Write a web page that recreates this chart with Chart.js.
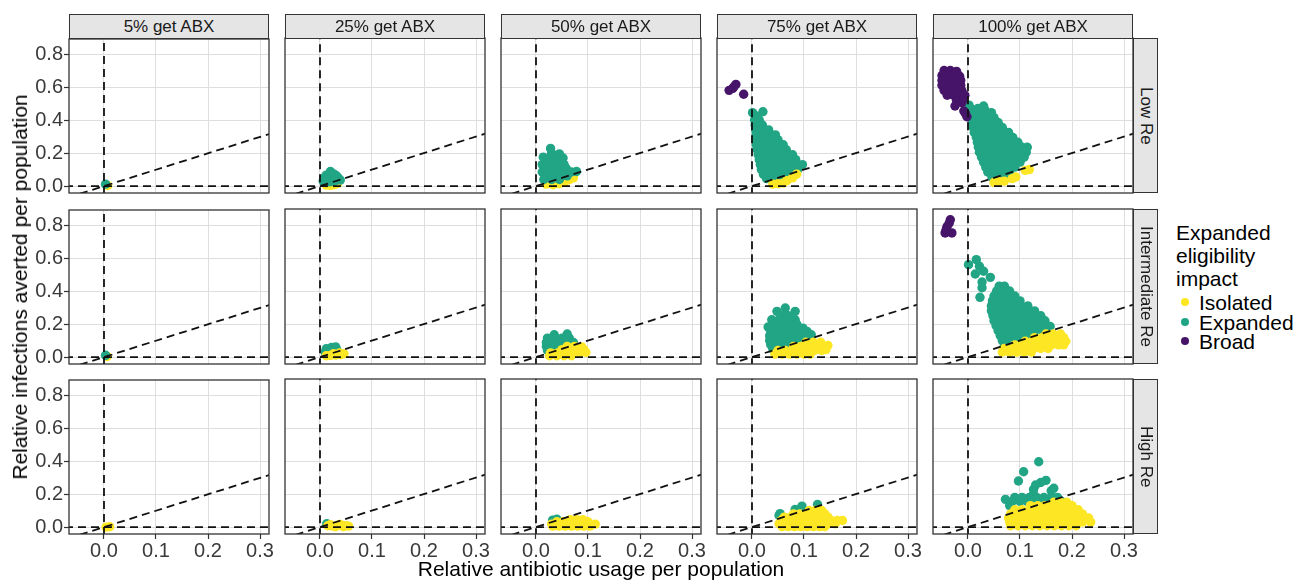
<!DOCTYPE html>
<html>
<head>
<meta charset="utf-8">
<title>Expanded eligibility impact</title>
<script src="https://cdn.jsdelivr.net/npm/chart.js@4.4.1/dist/chart.umd.min.js"></script>
<style>
  html, body { margin: 0; padding: 0; background: #fff; }
  #page { position: relative; width: 1294px; height: 580px; overflow: hidden;
          font-family: "Liberation Sans", Arial, sans-serif; color: #000; }
  .panel { position: absolute; }
  .strip-top { position: absolute; top: 14px; height: 25px; width: 200px; box-sizing: border-box;
               background: #e5e5e5; border: 1.3px solid #333; font-size: 17px; color: #1a1a1a;
               display: flex; align-items: center; justify-content: center; }
  .strip-right { position: absolute; left: 1133px; width: 25px; height: 155px; box-sizing: border-box;
                 background: #e5e5e5; border: 1.3px solid #333; font-size: 17px; color: #1a1a1a;
                 writing-mode: vertical-rl; display: flex; align-items: center; justify-content: center; }
  #ytitle { position: absolute; left: 20px; top: 287px; white-space: nowrap; font-size: 21px;
            transform: translate(-50%, -50%) rotate(-90deg); }
  #xtitle { position: absolute; left: 601px; top: 569px; white-space: nowrap; font-size: 21px;
            transform: translate(-50%, -50%); }
  .lg-line { position: absolute; left: 1176px; font-size: 21px; line-height: 23px; transform: translateY(-50%); white-space: nowrap; }
  .lg-dot { position: absolute; left: 1181px; width: 8px; height: 8px; border-radius: 50%; transform: translateY(-50%); }
  .lg-text { position: absolute; left: 1199px; font-size: 21px; line-height: 23px; transform: translateY(-50%); white-space: nowrap; }
</style>
</head>
<body>
<div id="page"></div>
<script>
// facets and groups
const abxLevels = ['5% get ABX', '25% get ABX', '50% get ABX', '75% get ABX', '100% get ABX'];
const reLevels = ['Low Re', 'Intermediate Re', 'High Re'];
const groupNames = ['Isolated', 'Expanded', 'Broad'];
const groupColors = ['#fde725', '#21a585', '#461468'];

const xTicks = [0, 0.1, 0.2, 0.3];
const yTicks = [0, 0.2, 0.4, 0.6, 0.8];
const xRange = [-0.0673, 0.3173];
const yRange = [-0.042, 0.897];

// dashed reference lines: x = 0, y = 0, y = x
const refVertical = [{ x: 0, y: -1 }, { x: 0, y: 1 }];
const refHorizontal = [{ x: -1, y: 0 }, { x: 1, y: 0 }];
const refDiagonal = [{ x: -1, y: -1 }, { x: 1, y: 1 }];

// ---- Low Re ----
const low5Iso = [[0.007,0.004]];
const low5Exp = [[0.003,0.012]];

const low25Iso = [[0.012,0.006],[0.02,0.004],[0.028,0.008],[0.034,0.016],[0.016,0.014]];
const low25Exp = [[0.006,0.03],[0.008,0.05],[0.012,0.066],[0.015,0.04],[0.02,0.088],[0.021,0.06],[0.026,0.074],
  [0.028,0.046],[0.031,0.064],[0.035,0.05],[0.039,0.036],[0.012,0.022],[0.02,0.026],[0.028,0.03]];

const low50Iso = [[0.02,0.012],[0.033,0.008],[0.045,0.014],[0.055,0.024],[0.064,0.038],[0.072,0.05]];
const low50Exp = [[0.028,0.228],[0.03,0.2],[0.045,0.195],
  [0.014,0.175],[0.028,0.175],[0.042,0.175],[0.052,0.17],
  [0.02,0.152],[0.035,0.152],[0.048,0.152],
  [0.012,0.13],[0.026,0.13],[0.04,0.13],[0.054,0.13],
  [0.018,0.107],[0.032,0.107],[0.046,0.107],[0.058,0.107],
  [0.012,0.085],[0.026,0.085],[0.04,0.085],[0.054,0.085],[0.068,0.085],[0.078,0.088],
  [0.018,0.062],[0.032,0.062],[0.046,0.062],[0.06,0.062],
  [0.015,0.04],[0.03,0.04],[0.045,0.04]];

const low75Iso = [[0.04,0.012],[0.05,0.014],[0.06,0.018],[0.067,0.033],[0.078,0.05],[0.086,0.072]];
const low75Exp = [[0.001,0.445],[0.021,0.45],
  [0.008,0.425],[0.005,0.40],[0.014,0.40],
  [0.006,0.37],[0.02,0.37],
  [0.007,0.34],[0.02,0.34],[0.032,0.34],
  [0.008,0.31],[0.022,0.31],[0.036,0.31],[0.045,0.31],
  [0.008,0.28],[0.022,0.28],[0.036,0.28],[0.05,0.28],
  [0.008,0.25],[0.022,0.25],[0.036,0.25],[0.05,0.25],[0.06,0.25],
  [0.01,0.22],[0.024,0.22],[0.038,0.22],[0.052,0.22],[0.066,0.22],
  [0.012,0.19],[0.026,0.19],[0.04,0.19],[0.054,0.19],[0.068,0.19],[0.078,0.19],
  [0.014,0.16],[0.028,0.16],[0.042,0.16],[0.056,0.16],[0.07,0.16],[0.084,0.16],
  [0.016,0.13],[0.03,0.13],[0.044,0.13],[0.058,0.13],[0.072,0.13],[0.086,0.13],[0.097,0.13],
  [0.018,0.10],[0.032,0.10],[0.046,0.10],[0.06,0.10],[0.074,0.10],[0.088,0.10],
  [0.022,0.07],[0.036,0.07],[0.05,0.07],[0.064,0.07],[0.078,0.07],
  [0.028,0.045],[0.042,0.045],[0.056,0.045],[0.07,0.045]];
const low75Broad = [[-0.044,0.58],[-0.037,0.592],[-0.031,0.616],[-0.035,0.6],[-0.016,0.556]];

const low100Iso = [[0.05,0.022],[0.06,0.026],[0.07,0.03],[0.085,0.045],[0.092,0.055],[0.11,0.095],[0.118,0.1]];
const low100Exp = [[0.002,0.49],[0.03,0.485],
  [0.005,0.47],[0.019,0.47],[0.032,0.465],
  [0.006,0.445],[0.02,0.445],[0.034,0.445],[0.045,0.445],
  [0.008,0.415],[0.022,0.415],[0.036,0.415],[0.05,0.415],
  [0.008,0.385],[0.022,0.385],[0.036,0.385],[0.05,0.385],[0.058,0.385],
  [0.01,0.355],[0.024,0.355],[0.038,0.355],[0.052,0.355],[0.066,0.355],
  [0.012,0.325],[0.026,0.325],[0.04,0.325],[0.054,0.325],[0.068,0.325],[0.078,0.325],
  [0.016,0.295],[0.03,0.295],[0.044,0.295],[0.058,0.295],[0.072,0.295],[0.086,0.295],
  [0.018,0.265],[0.032,0.265],[0.046,0.265],[0.06,0.265],[0.074,0.265],[0.088,0.265],[0.096,0.265],
  [0.02,0.235],[0.034,0.235],[0.048,0.235],[0.062,0.235],[0.076,0.235],[0.09,0.235],[0.104,0.235],[0.114,0.235],
  [0.022,0.205],[0.036,0.205],[0.05,0.205],[0.064,0.205],[0.078,0.205],[0.092,0.205],[0.106,0.205],[0.112,0.205],
  [0.026,0.175],[0.04,0.175],[0.054,0.175],[0.068,0.175],[0.082,0.175],[0.096,0.175],[0.108,0.175],
  [0.03,0.145],[0.044,0.145],[0.058,0.145],[0.072,0.145],[0.086,0.145],[0.1,0.145],
  [0.034,0.115],[0.048,0.115],[0.062,0.115],[0.076,0.115],[0.09,0.115],
  [0.038,0.085],[0.052,0.085],[0.066,0.085],[0.08,0.085],
  [0.046,0.055],[0.06,0.055],[0.072,0.055]];
const low100Broad = [[-0.046,0.70],[-0.034,0.70],[-0.022,0.695],
  [-0.05,0.67],[-0.038,0.67],[-0.026,0.67],[-0.016,0.665],
  [-0.05,0.64],[-0.038,0.64],[-0.026,0.64],[-0.014,0.64],
  [-0.05,0.61],[-0.038,0.61],[-0.026,0.61],[-0.014,0.61],
  [-0.046,0.58],[-0.034,0.58],[-0.022,0.58],[-0.012,0.58],
  [-0.04,0.55],[-0.028,0.55],[-0.016,0.55],[-0.006,0.55],
  [-0.022,0.52],[-0.01,0.52],
  [-0.025,0.485],[-0.012,0.505],[-0.008,0.455],[-0.002,0.42],[-0.005,0.44]];

// ---- Intermediate Re ----
const mid5Iso = [[0.006,0.004]];
const mid5Exp = [[0.003,0.011]];

const mid25Iso = [[0.012,0.008],[0.02,0.01],[0.03,0.012],[0.04,0.014],[0.046,0.02],[0.038,0.025],[0.026,0.02]];
const mid25Exp = [[0.01,0.03],[0.012,0.05],[0.02,0.04],[0.022,0.058],[0.03,0.062],[0.032,0.045],[0.018,0.025]];

const mid50Iso = [[0.06,0.065],[0.074,0.065],[0.088,0.062],
  [0.05,0.045],[0.064,0.045],[0.078,0.045],[0.092,0.045],
  [0.028,0.025],[0.042,0.025],[0.056,0.025],[0.07,0.025],[0.084,0.025],[0.096,0.028],
  [0.026,0.008],[0.04,0.008],[0.054,0.008],[0.068,0.008]];
const mid50Exp = [[0.06,0.14],[0.035,0.135],
  [0.022,0.115],[0.036,0.115],[0.05,0.115],[0.064,0.115],
  [0.02,0.09],[0.034,0.09],[0.048,0.09],[0.062,0.09],[0.072,0.088],
  [0.02,0.065],[0.034,0.065],[0.048,0.065],
  [0.022,0.04],[0.036,0.04]];

const mid75Iso = [[0.104,0.09],[0.118,0.09],[0.132,0.09],
  [0.08,0.065],[0.094,0.065],[0.108,0.065],[0.122,0.065],[0.136,0.065],[0.146,0.07],
  [0.05,0.04],[0.064,0.04],[0.078,0.04],[0.092,0.04],[0.106,0.04],[0.12,0.04],[0.134,0.04],[0.142,0.045],
  [0.044,0.018],[0.058,0.018],[0.072,0.018],[0.086,0.018],[0.1,0.018],[0.112,0.018]];
const mid75Exp = [[0.048,0.277],[0.064,0.297],[0.083,0.277],[0.058,0.25],[0.07,0.25],
  [0.038,0.226],[0.052,0.226],[0.066,0.226],[0.083,0.226],
  [0.044,0.2],[0.058,0.2],[0.072,0.2],[0.086,0.2],
  [0.031,0.182],[0.045,0.178],[0.059,0.178],[0.073,0.178],[0.087,0.178],[0.098,0.175],
  [0.036,0.155],[0.05,0.155],[0.064,0.155],[0.078,0.155],[0.092,0.155],[0.106,0.155],
  [0.034,0.128],[0.048,0.128],[0.062,0.128],[0.076,0.128],[0.09,0.128],[0.104,0.128],[0.114,0.135],
  [0.034,0.10],[0.048,0.10],[0.062,0.10],[0.076,0.10],[0.09,0.10],
  [0.036,0.075],[0.05,0.075],[0.064,0.075],[0.04,0.05]];

const mid100Iso = [[0.15,0.14],[0.164,0.14],[0.178,0.14],
  [0.128,0.118],[0.142,0.118],[0.156,0.118],[0.17,0.118],[0.184,0.118],
  [0.11,0.096],[0.124,0.096],[0.138,0.096],[0.152,0.096],[0.166,0.096],[0.18,0.096],[0.188,0.096],
  [0.09,0.074],[0.104,0.074],[0.118,0.074],[0.132,0.074],[0.146,0.074],[0.16,0.074],[0.174,0.074],[0.184,0.074],
  [0.07,0.052],[0.084,0.052],[0.098,0.052],[0.112,0.052],[0.126,0.052],[0.14,0.052],[0.154,0.052],
  [0.066,0.03],[0.08,0.03],[0.094,0.03],[0.108,0.03],[0.122,0.03]];
const mid100Exp = [[0.001,0.56],[0.016,0.59],[0.022,0.55],[0.014,0.503],[0.03,0.52],[0.043,0.483],[0.027,0.455],[0.027,0.42],[0.023,0.362],
  [0.06,0.43],[0.07,0.43],
  [0.055,0.40],[0.069,0.40],[0.08,0.40],
  [0.05,0.37],[0.064,0.37],[0.078,0.37],[0.09,0.37],
  [0.047,0.34],[0.061,0.34],[0.075,0.34],[0.089,0.34],[0.1,0.34],
  [0.045,0.31],[0.059,0.31],[0.073,0.31],[0.087,0.31],[0.101,0.31],[0.115,0.31],
  [0.045,0.28],[0.059,0.28],[0.073,0.28],[0.087,0.28],[0.101,0.28],[0.115,0.28],[0.128,0.28],
  [0.048,0.25],[0.062,0.25],[0.076,0.25],[0.09,0.25],[0.104,0.25],[0.118,0.25],[0.132,0.25],[0.14,0.25],
  [0.05,0.22],[0.064,0.22],[0.078,0.22],[0.092,0.22],[0.106,0.22],[0.12,0.22],[0.134,0.22],[0.148,0.22],
  [0.054,0.19],[0.068,0.19],[0.082,0.19],[0.096,0.19],[0.11,0.19],[0.124,0.19],[0.138,0.19],[0.152,0.19],[0.158,0.185],
  [0.058,0.16],[0.072,0.16],[0.086,0.16],[0.1,0.16],[0.114,0.16],[0.128,0.16],[0.142,0.16],
  [0.062,0.13],[0.076,0.13],[0.09,0.13],[0.104,0.13],[0.118,0.13],
  [0.066,0.10],[0.08,0.10],[0.094,0.10],
  [0.07,0.07],[0.084,0.07]];
const mid100Broad = [[-0.034,0.832],[-0.04,0.792],[-0.044,0.752],[-0.031,0.752],[-0.042,0.772],[-0.036,0.812]];

// ---- High Re ----
const high5Iso = [[0.004,0.0],[0.011,0.002]];

const high25Iso = [[0.015,0.008],[0.024,0.006],[0.033,0.01],[0.042,0.012],[0.05,0.008],[0.055,0.006],
  [0.03,0.002],[0.045,0.002],[0.02,0.014],[0.038,0.016]];
const high25Exp = [[0.013,0.02]];

const high50Iso = [[0.066,0.045],[0.078,0.045],[0.09,0.045],
  [0.04,0.032],[0.052,0.032],[0.064,0.032],[0.076,0.032],[0.088,0.032],[0.1,0.032],
  [0.03,0.018],[0.042,0.018],[0.054,0.018],[0.066,0.018],[0.078,0.018],[0.09,0.018],[0.102,0.018],[0.114,0.018],
  [0.032,0.006],[0.044,0.006],[0.056,0.006],[0.068,0.006],[0.08,0.006],[0.092,0.006],[0.104,0.006]];
const high50Exp = [[0.032,0.042],[0.04,0.048]];

const high75Iso = [[0.11,0.10],[0.122,0.10],[0.134,0.10],
  [0.08,0.08],[0.092,0.08],[0.104,0.08],[0.116,0.08],[0.128,0.08],[0.14,0.08],
  [0.062,0.06],[0.074,0.06],[0.086,0.06],[0.098,0.06],[0.11,0.06],[0.122,0.06],[0.134,0.06],[0.146,0.06],
  [0.056,0.04],[0.068,0.04],[0.08,0.04],[0.092,0.04],[0.104,0.04],[0.116,0.04],[0.128,0.04],[0.14,0.04],[0.152,0.04],[0.164,0.04],[0.174,0.04],
  [0.052,0.02],[0.064,0.02],[0.076,0.02],[0.088,0.02],[0.1,0.02],[0.112,0.02],[0.124,0.02],[0.136,0.02],[0.148,0.02],[0.16,0.02],
  [0.058,0.003],[0.07,0.003],[0.082,0.003],[0.094,0.003],[0.106,0.003],[0.118,0.003],[0.13,0.003],[0.14,0.003]];
const high75Exp = [[0.054,0.081],[0.083,0.107],[0.096,0.127],[0.126,0.137],[0.052,0.07]];

const high100Iso = [[0.165,0.15],[0.178,0.15],[0.19,0.15],
  [0.12,0.13],[0.134,0.13],[0.148,0.13],[0.162,0.13],[0.176,0.13],[0.19,0.13],[0.2,0.13],
  [0.09,0.105],[0.104,0.105],[0.118,0.105],[0.132,0.105],[0.146,0.105],[0.16,0.105],[0.174,0.105],[0.188,0.105],[0.202,0.105],[0.212,0.105],
  [0.082,0.08],[0.096,0.08],[0.11,0.08],[0.124,0.08],[0.138,0.08],[0.152,0.08],[0.166,0.08],[0.18,0.08],[0.194,0.08],[0.208,0.08],[0.22,0.08],
  [0.078,0.055],[0.092,0.055],[0.106,0.055],[0.12,0.055],[0.134,0.055],[0.148,0.055],[0.162,0.055],[0.176,0.055],[0.19,0.055],[0.204,0.055],[0.218,0.055],[0.232,0.055],
  [0.08,0.03],[0.094,0.03],[0.108,0.03],[0.122,0.03],[0.136,0.03],[0.15,0.03],[0.164,0.03],[0.178,0.03],[0.192,0.03],[0.206,0.03],[0.22,0.03],[0.236,0.03],
  [0.082,0.008],[0.096,0.008],[0.11,0.008],[0.124,0.008],[0.138,0.008],[0.152,0.008],[0.166,0.008],[0.18,0.008],[0.194,0.008],[0.208,0.008]];
const high100Exp = [[0.136,0.396],[0.107,0.335],[0.097,0.279],[0.15,0.283],[0.14,0.27],[0.165,0.235],[0.126,0.228],[0.13,0.255],
  [0.072,0.168],[0.08,0.13],[0.126,0.2],[0.16,0.22],
  [0.09,0.18],[0.104,0.18],[0.118,0.18],[0.132,0.18],[0.146,0.18],[0.16,0.18],[0.172,0.18],
  [0.085,0.155],[0.1,0.155],[0.114,0.155],[0.128,0.155],[0.142,0.155],[0.156,0.155],[0.17,0.155],[0.18,0.155]];

// [row][col] -> [isolated, expanded, broad]
const seriesGrid = [
  [[low5Iso, low5Exp, []], [low25Iso, low25Exp, []], [low50Iso, low50Exp, []], [low75Iso, low75Exp, low75Broad], [low100Iso, low100Exp, low100Broad]],
  [[mid5Iso, mid5Exp, []], [mid25Iso, mid25Exp, []], [mid50Iso, mid50Exp, []], [mid75Iso, mid75Exp, []], [mid100Iso, mid100Exp, mid100Broad]],
  [[high5Iso, [], []], [high25Iso, high25Exp, []], [high50Iso, high50Exp, []], [high75Iso, high75Exp, []], [high100Iso, high100Exp, []]],
];
// which colour sits on top of the other in each panel
const isolatedOnTop = [
  [false, false, false, true, true],
  [false, true, true, true, true],
  [true, true, true, true, true],
];

// layout
const FONT = '"Liberation Sans", Arial, sans-serif';
const colLeft = [69, 285, 501, 717, 933];
const rowTop = [38, 209, 379];
const PANEL_W = 200, PANEL_H = 155;
const PAD_L = 60, PAD_R = 20, PAD_T = 12, PAD_B = 42;

const page = document.getElementById('page');

const panelBorder = {
  id: 'panelBorder',
  afterDraw(chart) {
    const { ctx, chartArea: a } = chart;
    ctx.save();
    ctx.strokeStyle = '#333';
    ctx.lineWidth = 1.3;
    ctx.strokeRect(a.left, a.top, a.width, a.height);
    ctx.restore();
  }
};

function refLine(data) {
  return { data, showLine: true, borderColor: '#111', borderWidth: 1.8, borderDash: [8, 5],
           pointRadius: 0, fill: false, order: 0 };
}

function pts(list, color, order) {
  return { data: list.map(([x, y]) => ({ x, y })), backgroundColor: color, borderColor: color,
           borderWidth: 0, pointRadius: 4.7, order };
}

function makePanel(r, c) {
  const [iso, exp, broad] = seriesGrid[r][c];
  const axisW = c === 0 ? 52 : 0;
  const axisH = r === 2 ? 32 : 0;
  const isoTop = isolatedOnTop[r][c];

  const w = PANEL_W + PAD_L + PAD_R, h = PANEL_H + PAD_T + PAD_B;
  const wrap = document.createElement('div');
  wrap.className = 'panel';
  wrap.style.left = (colLeft[c] - PAD_L) + 'px';
  wrap.style.top = (rowTop[r] - PAD_T) + 'px';
  const cv = document.createElement('canvas');
  cv.width = w; cv.height = h;
  cv.style.width = w + 'px'; cv.style.height = h + 'px';
  wrap.appendChild(cv);
  page.appendChild(wrap);

  new Chart(cv, {
    type: 'scatter',
    data: {
      datasets: [
        refLine(refVertical), refLine(refHorizontal), refLine(refDiagonal),
        pts(broad, groupColors[2], 1),
        pts(exp, groupColors[1], isoTop ? 3 : 2),
        pts(iso, groupColors[0], isoTop ? 2 : 3),
      ]
    },
    options: {
      responsive: false,
      animation: false,
      events: [],
      layout: { padding: { left: PAD_L - axisW, right: PAD_R, top: PAD_T, bottom: PAD_B - axisH } },
      plugins: { legend: { display: false }, tooltip: { enabled: false } },
      scales: {
        x: {
          type: 'linear', min: xRange[0], max: xRange[1],
          afterBuildTicks: s => { s.ticks = xTicks.map(v => ({ value: v })); },
          afterFit: s => { s.height = axisH; },
          ticks: { display: r === 2, autoSkip: false, maxRotation: 0, padding: 0, color: '#3a3a3a',
                   font: { family: FONT, size: 20 }, callback: v => v.toFixed(1) },
          grid: { color: '#dedede', lineWidth: 1, drawTicks: r === 2, tickLength: 5, tickColor: '#333', tickWidth: 1.2 },
          border: { display: false }
        },
        y: {
          type: 'linear', min: yRange[0], max: yRange[1],
          afterBuildTicks: s => { s.ticks = yTicks.map(v => ({ value: v })); },
          afterFit: s => { s.width = axisW; },
          ticks: { display: c === 0, autoSkip: false, padding: 1, color: '#3a3a3a',
                   font: { family: FONT, size: 20 }, callback: v => v.toFixed(1) },
          grid: { color: '#dedede', lineWidth: 1, drawTicks: c === 0, tickLength: 5, tickColor: '#333', tickWidth: 1.2 },
          border: { display: false }
        }
      }
    },
    plugins: [panelBorder]
  });
}

for (let r = 0; r < reLevels.length; r++) {
  for (let c = 0; c < abxLevels.length; c++) makePanel(r, c);
}

// facet strips
abxLevels.forEach((label, c) => {
  const d = document.createElement('div');
  d.className = 'strip-top';
  d.style.left = colLeft[c] + 'px';
  d.textContent = label;
  page.appendChild(d);
});
reLevels.forEach((label, r) => {
  const d = document.createElement('div');
  d.className = 'strip-right';
  d.style.top = rowTop[r] + 'px';
  d.textContent = label;
  page.appendChild(d);
});

// axis titles
const yt = document.createElement('div');
yt.id = 'ytitle';
yt.textContent = 'Relative infections averted per population';
page.appendChild(yt);
const xt = document.createElement('div');
xt.id = 'xtitle';
xt.textContent = 'Relative antibiotic usage per population';
page.appendChild(xt);

// legend
['Expanded', 'eligibility', 'impact'].forEach((t, i) => {
  const d = document.createElement('div');
  d.className = 'lg-line';
  d.style.top = (232 + i * 23) + 'px';
  d.textContent = t;
  page.appendChild(d);
});
groupNames.forEach((name, i) => {
  const y = 302 + i * 19.5;
  const dot = document.createElement('div');
  dot.className = 'lg-dot';
  dot.style.top = y + 'px';
  dot.style.background = groupColors[i];
  page.appendChild(dot);
  const t = document.createElement('div');
  t.className = 'lg-text';
  t.style.top = y + 'px';
  t.textContent = name;
  page.appendChild(t);
});
</script>
</body>
</html>
